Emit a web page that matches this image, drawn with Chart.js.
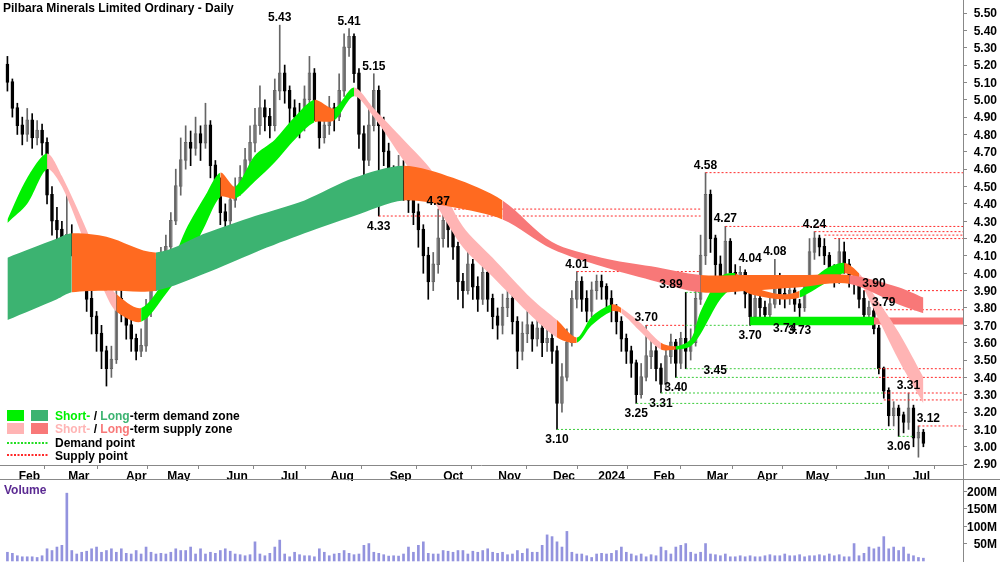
<!DOCTYPE html>
<html>
<head>
<meta charset="utf-8">
<script src="https://cdn.jsdelivr.net/npm/chart.js@4.4.1/dist/chart.umd.min.js"></script>
<style>
  body { margin: 0; background: #fff; }
  #wrap { position: relative; width: 1000px; height: 562px; overflow: hidden; }
  #priceBox { position: absolute; left: 0; top: 0; width: 1000px; height: 481px; }
  #volBox { position: absolute; left: 0; top: 481px; width: 1000px; height: 81px; }
</style>
</head>
<body>
<div id="wrap">
  <div id="priceBox"><canvas id="js--price"></canvas></div>
  <div id="volBox"><canvas id="js--volume"></canvas></div>
</div>
<script>
// koersen, 1 balk per 2 handelsdagen
const opens = [5.20,5.10,4.95,4.85,4.80,4.88,4.78,4.82,4.75,4.45,
  4.30,4.25,4.20,4.22,4.18,4.10,4.02,3.85,3.75,3.65,
  3.55,3.45,3.50,3.85,3.80,3.70,3.62,3.55,3.58,3.80,
  3.95,4.00,4.10,4.15,4.30,4.50,4.65,4.75,4.72,4.80,
  4.75,4.85,4.62,4.50,4.35,4.30,4.42,4.48,4.55,4.65,
  4.75,4.85,4.95,4.90,4.85,5.05,5.15,5.05,4.95,4.90,
  4.85,5.00,5.15,4.95,4.78,4.85,4.95,4.90,5.05,5.30,
  5.36,5.15,4.80,4.65,4.85,5.05,4.85,4.70,4.55,4.50,
  4.60,4.50,4.42,4.35,4.25,4.10,3.95,4.05,4.20,4.30,
  4.25,4.15,3.95,3.90,4.05,3.92,3.85,4.00,3.85,3.75,
  3.70,3.80,3.85,3.72,3.55,3.65,3.70,3.62,3.68,3.60,
  3.62,3.55,3.25,3.40,3.60,3.85,3.95,3.85,3.78,3.90,
  3.95,3.92,3.85,3.80,3.72,3.62,3.55,3.48,3.30,3.40,
  3.52,3.55,3.45,3.36,3.52,3.60,3.48,3.62,3.55,3.60,
  3.85,4.10,4.45,4.20,4.05,3.95,4.18,4.00,3.95,4.00,
  3.88,3.75,3.85,3.80,3.76,3.82,3.98,3.88,3.86,3.90,
  3.82,3.80,3.92,4.12,4.20,4.15,4.10,4.00,3.96,4.12,
  4.05,3.98,3.95,3.85,3.76,3.78,3.68,3.45,3.32,3.18,
  3.22,3.18,3.14,3.22,3.05,3.08];
const closes = [5.10,4.95,4.85,4.80,4.88,4.78,4.82,4.75,4.45,4.30,
  4.25,4.20,4.22,4.18,4.10,4.02,3.85,3.75,3.65,3.55,
  3.45,3.50,3.85,3.80,3.70,3.62,3.55,3.58,3.80,3.95,
  4.00,4.10,4.15,4.30,4.50,4.65,4.75,4.72,4.80,4.75,
  4.85,4.62,4.50,4.35,4.30,4.42,4.48,4.55,4.65,4.75,
  4.85,4.95,4.90,4.85,5.05,5.15,5.05,4.95,4.90,4.85,
  5.00,5.15,4.95,4.78,4.85,4.95,4.90,5.05,5.30,5.36,
  5.15,4.80,4.65,4.85,5.05,4.85,4.70,4.55,4.50,4.60,
  4.50,4.42,4.35,4.25,4.10,3.95,4.05,4.20,4.30,4.25,
  4.15,3.95,3.90,4.05,3.92,3.85,4.00,3.85,3.75,3.70,
  3.80,3.85,3.72,3.55,3.65,3.70,3.62,3.68,3.60,3.62,
  3.55,3.25,3.40,3.60,3.85,3.95,3.85,3.78,3.90,3.95,
  3.92,3.85,3.80,3.72,3.62,3.55,3.48,3.30,3.40,3.52,
  3.55,3.45,3.36,3.52,3.60,3.48,3.62,3.55,3.60,3.85,
  4.10,4.45,4.20,4.05,3.95,4.18,4.00,3.95,4.00,3.88,
  3.75,3.85,3.80,3.76,3.82,3.98,3.88,3.86,3.90,3.82,
  3.80,3.92,4.12,4.20,4.15,4.10,4.00,3.96,4.12,4.05,
  3.98,3.95,3.85,3.76,3.80,3.68,3.45,3.32,3.18,3.22,
  3.18,3.14,3.22,3.05,3.08,3.02];
const highs = [5.25,5.12,4.98,4.90,4.95,4.92,4.88,4.86,4.78,4.50,
  4.38,4.30,4.45,4.28,4.22,4.15,4.05,3.90,3.78,3.70,
  3.58,3.58,3.90,3.92,3.82,3.75,3.65,3.68,3.85,4.00,
  4.08,4.15,4.22,4.35,4.60,4.78,4.85,4.82,4.90,4.85,
  4.98,4.88,4.65,4.55,4.40,4.48,4.55,4.62,4.72,4.85,
  4.95,5.08,5.00,4.95,5.12,5.43,5.20,5.08,5.00,4.98,
  5.08,5.25,5.18,4.98,4.92,5.02,4.98,5.15,5.38,5.41,
  5.38,5.18,4.85,4.95,5.15,5.08,4.90,4.75,4.62,4.68,
  4.65,4.55,4.45,4.40,4.28,4.15,4.12,4.37,4.35,4.34,
  4.30,4.18,4.00,4.12,4.08,3.98,4.05,4.02,3.88,3.80,
  3.88,3.92,3.88,3.75,3.72,3.78,3.72,3.75,3.70,3.70,
  3.72,3.58,3.48,3.68,3.90,4.01,3.98,3.90,3.95,3.99,
  3.99,3.94,3.90,3.82,3.75,3.65,3.58,3.50,3.48,3.70,
  3.62,3.58,3.48,3.58,3.65,3.62,3.66,3.89,3.68,3.92,
  4.22,4.58,4.48,4.22,4.10,4.27,4.20,4.05,4.04,4.02,
  3.90,3.90,3.88,3.84,3.88,4.08,4.00,3.92,3.95,3.92,
  3.85,3.98,4.20,4.24,4.22,4.20,4.12,4.05,4.20,4.18,
  4.08,4.00,3.96,3.90,3.84,3.80,3.70,3.46,3.34,3.26,
  3.24,3.20,3.31,3.24,3.12,3.10];
const lows = [5.05,4.90,4.80,4.74,4.76,4.72,4.74,4.68,4.40,4.22,
  4.18,4.12,4.15,4.10,4.02,3.95,3.78,3.65,3.55,3.45,
  3.35,3.40,3.48,3.72,3.62,3.55,3.50,3.52,3.55,3.75,
  3.90,3.95,4.05,4.12,4.28,4.45,4.60,4.62,4.68,4.65,
  4.72,4.55,4.42,4.28,4.22,4.28,4.38,4.45,4.50,4.60,
  4.70,4.80,4.82,4.78,4.82,5.00,4.98,4.82,4.80,4.78,
  4.82,4.95,4.88,4.72,4.75,4.80,4.82,4.88,5.02,5.25,
  5.10,4.72,4.55,4.62,4.82,4.33,4.62,4.48,4.42,4.45,
  4.42,4.35,4.28,4.15,4.00,3.85,3.90,4.00,4.15,4.15,
  4.08,3.85,3.80,3.88,3.85,3.78,3.82,3.78,3.68,3.62,
  3.65,3.75,3.65,3.45,3.50,3.60,3.55,3.58,3.52,3.55,
  3.48,3.10,3.20,3.38,3.58,3.80,3.78,3.72,3.75,3.85,
  3.85,3.78,3.72,3.65,3.55,3.48,3.40,3.25,3.28,3.38,
  3.45,3.38,3.31,3.34,3.48,3.40,3.45,3.45,3.50,3.58,
  3.82,4.05,4.12,3.95,3.90,3.92,3.92,3.88,3.90,3.80,
  3.70,3.72,3.75,3.74,3.74,3.80,3.82,3.80,3.82,3.78,
  3.73,3.78,3.90,4.08,4.10,4.05,3.95,3.92,3.94,4.00,
  3.92,3.88,3.80,3.72,3.74,3.65,3.42,3.28,3.12,3.12,
  3.06,3.08,3.10,3.00,2.94,3.00];
const volumes = [25,22,15,12,12,12,10,15,35,30,
  40,45,195,30,20,25,28,35,40,25,
  30,35,25,35,22,20,30,20,40,25,
  20,22,20,25,35,30,30,40,20,35,
  20,25,22,30,35,28,20,18,15,18,
  55,20,15,22,40,60,20,12,25,18,
  15,15,12,35,25,15,20,22,30,22,
  18,20,45,50,25,22,18,14,15,14,
  20,40,25,45,55,22,20,20,30,28,
  25,30,30,20,28,25,30,35,25,22,
  25,18,20,30,22,35,25,25,45,75,
  70,55,40,85,25,20,20,15,10,20,
  22,20,22,30,40,25,20,15,20,12,
  18,15,40,30,20,40,45,50,25,20,
  25,50,20,18,15,20,12,12,15,12,
  15,12,12,15,18,15,15,20,15,15,
  18,12,15,15,18,15,20,15,18,12,
  12,50,15,22,40,35,40,70,35,40,
  30,40,20,15,10,8];

// maanden (balkindex waar de maand begint)
const monthLabels = ["Feb","Mar","Apr","May","Jun","Jul","Aug","Sep","Oct","Nov","Dec","2024","Feb","Mar","Apr","May","Jun","Jul"];
const monthIdx = [2.4,12.4,24,32.6,44.4,55,65.6,77.4,88,99.4,110.4,120,130.6,141.4,151.4,161.6,173.2,182.6];
const priceTicks = [2.9,3.0,3.1,3.2,3.3,3.4,3.5,3.6,3.7,3.8,3.9,4.0,4.1,4.2,4.3,4.4,4.5,4.6,4.7,4.8,4.9,5.0,5.1,5.2,5.3,5.4,5.5];
const volTicks = [50,100,150,200];

// lange termijn zone
const ltIdx = [0,10,13,20,30,40,50,60,70,80,90,100,110,120,130,140,150,160,170,180,185];
const ltUpper = [4.09,4.20,4.23,4.21,4.12,4.23,4.33,4.42,4.55,4.62,4.55,4.42,4.18,4.09,4.04,3.99,3.99,3.99,3.99,3.92,3.86];
const ltLower = [3.73,3.85,3.89,3.90,3.90,4.00,4.12,4.23,4.33,4.42,4.38,4.31,4.14,4.04,3.96,3.89,3.90,3.92,3.94,3.82,3.77];

// korte termijn zone
const stIdx = [0,4,8,11,16,20,22,27,32,36,40,43,46,50,54,58,62,66,70,74,80,86,92,98,106,111,115,118,122,124,128,132,135,138,140,144,147,150,156,160,165,169,172,174,180,185];
const stUpper = [4.31,4.55,4.69,4.56,4.25,3.97,3.88,3.80,3.98,4.25,4.45,4.58,4.50,4.68,4.77,4.90,5.00,4.95,5.07,4.95,4.77,4.58,4.27,4.09,3.85,3.73,3.63,3.75,3.82,3.80,3.71,3.60,3.58,3.62,3.78,3.98,4.00,3.93,3.88,3.90,4.02,4.06,4.00,3.92,3.66,3.40];
const stLower = [4.29,4.40,4.60,4.50,4.15,3.87,3.78,3.72,3.88,4.05,4.28,4.44,4.43,4.53,4.64,4.77,4.87,4.88,5.02,4.90,4.65,4.42,4.15,3.98,3.75,3.63,3.60,3.70,3.78,3.77,3.66,3.56,3.56,3.58,3.65,3.85,3.92,3.88,3.85,3.86,3.94,4.00,3.96,3.85,3.50,3.25];

// vraag- en aanbodpunten: [van, tot, prijs]
const supplyLines = [[75,140,4.33],[87,140,4.37],[141,193,4.58],[145,193,4.27],[163,193,4.24],[165,193,4.22],[167,193,4.20],
  [115,140,4.01],[129,137,3.70],[173,193,3.90],[175,193,3.79],[176,193,3.45],[176,193,3.40],[177,193,3.31],[177,193,3.27],[184,193,3.12]];
const demandLines = [[111,179,3.10],[127,177,3.25],[132,177,3.31],[135,176,3.40],[137,176,3.45],[137,140,3.89],[137,150,3.70],[180,183,3.06]];
const demandZone = [150,175,3.70,3.75];
const supplyZone = [175,193,3.705,3.745];

// labels: [index, prijs, plek]
const priceLabels = [[55,5.43,"a"],[69,5.41,"a"],[74,5.15,"a"],[75,4.33,"b"],[87,4.37,"a"],[115,4.01,"a"],[111,3.10,"b"],
  [134,3.89,"a"],[129,3.70,"a"],[127,3.25,"b"],[132,3.31,"b"],[135,3.40,"b"],[140,3.45,"r"],[141,4.58,"a"],[145,4.27,"a"],
  [150,4.04,"a"],[150,3.70,"b"],[155,4.08,"a"],[157,3.74,"b"],[160,3.73,"b"],[163,4.24,"a"],[175,3.90,"a"],[177,3.79,"a"],
  [182,3.31,"a"],[180,3.06,"b"],[186,3.12,"a"]];

const xMin = -1.5, xMax = 193;

//kleuren van de zones
function ltColor(ctx) {
    const a = ctx.p0DataIndex, b = ctx.p1DataIndex;
    const m0 = (ltUpper[a] + ltLower[a]) / 2, m1 = (ltUpper[b] + ltLower[b]) / 2;
    const slope = (m1 - m0) / (ltIdx[b] - ltIdx[a]);
    const w = (ltUpper[a] - ltLower[a] + ltUpper[b] - ltLower[b]) / 2;
    if (slope > 0.002) return "#3cb371";
    if (slope < -0.004 && w < 0.12) return "#f87878";
    return "#ff6a20";
}
function stColor(ctx) {
    const a = ctx.p0DataIndex, b = ctx.p1DataIndex;
    const m0 = (stUpper[a] + stLower[a]) / 2, m1 = (stUpper[b] + stLower[b]) / 2;
    const slope = (m1 - m0) / (stIdx[b] - stIdx[a]);
    if (slope > 0.004) return "#00f000";
    if (slope < -0.02) return "#ffb4b4";
    return "#ff6a20";
}

function bandSets(idx, up, low, colorFn) {
    return [{
        type: "line", data: idx.map((x, k) => ({x: x, y: up[k]})),
        borderWidth: 0, pointRadius: 0, fill: "+1",
        segment: {backgroundColor: colorFn, borderColor: colorFn}, tension: 0.3
    }, {
        type: "line", data: idx.map((x, k) => ({x: x, y: low[k]})),
        borderWidth: 0, pointRadius: 0, fill: false, tension: 0.3
    }];
}

function lineSet(l, color) {
    return {
        type: "line", data: [{x: l[0], y: l[2]}, {x: l[1], y: l[2]}],
        borderColor: color, borderWidth: 1, borderDash: [2, 2], pointRadius: 0, fill: false
    };
}

function zoneSets(z, color) {
    return [{
        type: "line", data: [{x: z[0], y: z[3]}, {x: z[1], y: z[3]}],
        borderWidth: 0, pointRadius: 0, fill: "+1", backgroundColor: color
    }, {
        type: "line", data: [{x: z[0], y: z[2]}, {x: z[1], y: z[2]}],
        borderWidth: 0, pointRadius: 0, fill: false
    }];
}

const up = closes.map((c, i) => c >= opens[i]);
const wicks = {
    type: "bar", grouped: false, barThickness: 1,
    data: closes.map((c, i) => ({x: i, y: [lows[i], highs[i]]})),
    backgroundColor: up.map(u => u ? "#666" : "#000")
};
const bodies = {
    type: "bar", grouped: false, barThickness: 3,
    data: closes.map((c, i) => ({x: i, y: [Math.min(opens[i], c), Math.max(opens[i], c) + 0.005]})),
    backgroundColor: up.map(u => u ? "#e4e4e4" : "#000"),
    borderColor: up.map(u => u ? "#666" : "#000"), borderWidth: 1, borderSkipped: false
};

const datasets = [
    ...bandSets(ltIdx, ltUpper, ltLower, ltColor),
    ...bandSets(stIdx, stUpper, stLower, stColor),
    ...zoneSets(demandZone, "#00f000"),
    ...zoneSets(supplyZone, "#f87878"),
    ...supplyLines.map(l => lineSet(l, "#ff2a2a")),
    ...demandLines.map(l => lineSet(l, "#3ccc3c")),
    wicks, bodies
];

const font = "bold 12px 'Liberation Sans', Arial, sans-serif";

// y-as labels zelf tekenen (geen extra padding)
function drawYLabels(chart, values, fmt) {
    const c = chart.ctx, ys = chart.scales.y;
    c.save();
    c.font = font;
    c.fillStyle = "#000";
    c.textAlign = "right";
    c.textBaseline = "middle";
    values.forEach(v => c.fillText(fmt(v), 997, ys.getPixelForValue(v) + 1));
    c.restore();
}

const decor = {
    id: "decor",
    afterDraw(chart) {
        const c = chart.ctx, xs = chart.scales.x, ys = chart.scales.y, area = chart.chartArea;
        drawYLabels(chart, priceTicks, v => v.toFixed(2));
        c.save();
        c.font = font;
        c.fillStyle = "#000";
        c.textBaseline = "alphabetic";
        c.textAlign = "left";
        c.fillText("Pilbara Minerals Limited Ordinary - Daily", 3, 12);
        // labels
        priceLabels.forEach(l => {
            const px = xs.getPixelForValue(l[0]), py = ys.getPixelForValue(l[1]);
            c.textAlign = l[2] === "r" ? "left" : "center";
            if (l[2] === "a") c.fillText(l[1].toFixed(2), px, py - 4);
            else if (l[2] === "b") c.fillText(l[1].toFixed(2), px, py + 14);
            else c.fillText(l[1].toFixed(2), px + 3, py + 5);
        });
        // legenda
        const lg = [["#00f000", "#3cb371", "demand zone"], ["#ffb4b4", "#f87878", "supply zone"]];
        lg.forEach((r, k) => {
            const y = 410 + k * 13;
            c.fillStyle = r[0]; c.fillRect(7, y, 17, 11);
            c.fillStyle = r[1]; c.fillRect(31, y, 17, 11);
            let x = 55;
            c.textAlign = "left";
            c.fillStyle = r[0]; c.fillText("Short-", x, y + 10); x += c.measureText("Short-").width;
            c.fillStyle = "#000"; c.fillText(" / ", x, y + 10); x += c.measureText(" / ").width;
            c.fillStyle = r[1]; c.fillText("Long", x, y + 10); x += c.measureText("Long").width;
            c.fillStyle = "#000"; c.fillText("-term " + r[2], x, y + 10);
        });
        c.lineWidth = 2;
        c.setLineDash([2, 1.5]);
        c.strokeStyle = "#22dd22";
        c.beginPath(); c.moveTo(7, 443); c.lineTo(48, 443); c.stroke();
        c.strokeStyle = "#ff2a2a";
        c.beginPath(); c.moveTo(7, 455); c.lineTo(48, 455); c.stroke();
        c.setLineDash([]);
        c.fillStyle = "#000";
        c.fillText("Demand point", 55, 447);
        c.fillText("Supply point", 55, 460);
        // randen
        c.strokeStyle = "#888";
        c.lineWidth = 1;
        c.beginPath();
        c.moveTo(0, area.bottom + 0.5); c.lineTo(area.right, area.bottom + 0.5);
        c.moveTo(area.right + 0.5, 0); c.lineTo(area.right + 0.5, chart.height);
        c.moveTo(0, chart.height - 1.5); c.lineTo(1000, chart.height - 1.5);
        c.stroke();
        c.restore();
    }
};

new Chart(document.getElementById("js--price"), {
    type: "bar",
    data: {datasets: datasets},
    options: {
        responsive: true, maintainAspectRatio: false, animation: false,
        layout: {padding: 0},
        plugins: {legend: {display: false}, tooltip: {enabled: false}},
        scales: {
            x: {
                type: "linear", min: xMin, max: xMax, offset: false,
                afterBuildTicks: s => { s.ticks = monthIdx.map(v => ({value: v})); },
                afterFit: s => { s.height = 16; },
                ticks: {
                    autoSkip: false, maxRotation: 0, padding: 0, labelOffset: 10, color: "#000",
                    font: {family: "'Liberation Sans', Arial", size: 12, weight: "bold"},
                    callback: (v, i) => monthLabels[i]
                },
                grid: {drawOnChartArea: false, tickLength: 4, color: "#888"},
                border: {display: false}
            },
            y: {
                position: "right", min: 2.895, max: 5.575,
                afterBuildTicks: s => { s.ticks = priceTicks.map(v => ({value: v})); },
                afterFit: s => { s.width = 37; },
                ticks: {display: false},
                grid: {drawOnChartArea: false, tickLength: 4, color: "#888"},
                border: {display: false}
            }
        }
    },
    plugins: [decor]
});

new Chart(document.getElementById("js--volume"), {
    type: "bar",
    data: {datasets: [{
        data: volumes.map((v, i) => ({x: i, y: v})),
        backgroundColor: "#9393de", barThickness: 2
    }]},
    options: {
        responsive: true, maintainAspectRatio: false, animation: false,
        layout: {padding: 0},
        plugins: {legend: {display: false}, tooltip: {enabled: false}},
        scales: {
            x: {type: "linear", min: xMin, max: xMax, offset: false, display: false},
            y: {
                position: "right", min: -3, max: 230,
                afterBuildTicks: s => { s.ticks = volTicks.map(v => ({value: v})); },
                afterFit: s => { s.width = 37; },
                ticks: {display: false},
                grid: {drawOnChartArea: false, tickLength: 4, color: "#888"},
                border: {display: true, color: "#888"}
            }
        }
    },
    plugins: [{
        id: "volLabel",
        afterDraw(chart) {
            drawYLabels(chart, volTicks, v => v + "M");
            const c = chart.ctx;
            c.save();
            c.font = font;
            c.fillStyle = "#5b2a92";
            c.fillText("Volume", 4, 13);
            c.restore();
        }
    }]
});
</script>
</body>
</html>
